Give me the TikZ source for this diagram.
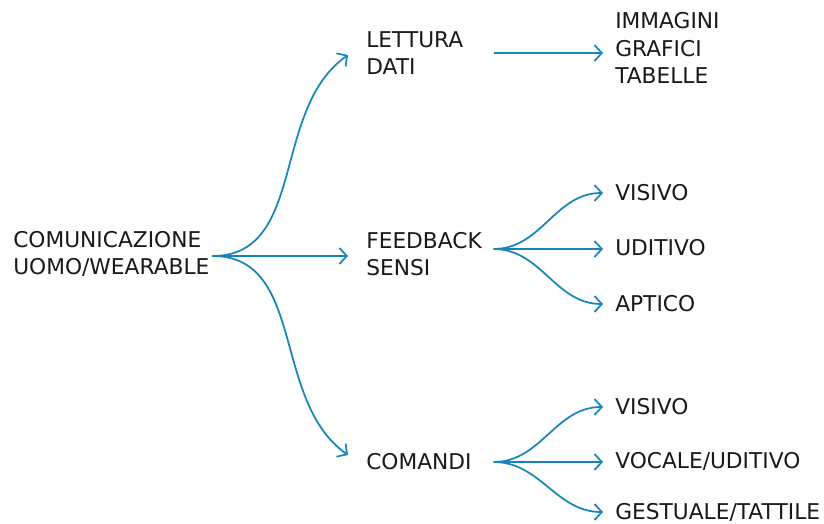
\documentclass[tikz,border=0pt]{standalone}
\usepackage{fontspec}
\setmainfont{DejaVu Sans}
\usetikzlibrary{arrows.meta,positioning}

\definecolor{linkblue}{RGB}{24,132,188}

\begin{document}
\begin{tikzpicture}[x=0.75pt, y=-0.75pt,
    item/.style={anchor=west, inner sep=0pt, align=left, text=black!90,
                 font=\fontsize{16.3}{20.3}\selectfont},
    mid/.style={item, text width=95.25pt},
    arrow/.style={-{Straight Barb[length=5.5pt,width=12pt]}, line width=1.3pt, draw=linkblue}
]
\useasboundingbox (0,0) rectangle (824,524);

% Root
\node[item] (root) at (13,254) {COMUNICAZIONE\\UOMO/WEARABLE};

% Second level
\node[mid] (lettura)  at (366,53)  {LETTURA\\DATI};
\node[mid] (feedback) at (366,254) {FEEDBACK\\SENSI};
\node[mid] (comandi)  at (366,462) {COMANDI};

% Third level
\node[item] (immagini) at (615,48)  {IMMAGINI\\GRAFICI\\TABELLE};
\node[item] (visivoa)  at (615,193) {VISIVO};
\node[item] (uditivo)  at (615,248) {UDITIVO};
\node[item] (aptico)   at (615,304) {APTICO};
\node[item] (visivob)  at (615,407) {VISIVO};
\node[item] (vocale)   at (615,461) {VOCALE/UDITIVO};
\node[item] (gestuale) at (615,512) {GESTUALE/TATTILE};

% Root arrows
\draw[arrow] ([xshift=2pt,yshift=-1.5pt]root.east) to[out=0, in=215] ([xshift=-13.5pt,yshift=-1.5pt]lettura.west);
\draw[arrow] ([xshift=2pt,yshift=-1.5pt]root.east) -- ([xshift=-13.5pt,yshift=-1.5pt]root.east -| feedback.west);
\draw[arrow] ([xshift=2pt,yshift=-1.5pt]root.east) to[out=0, in=145] ([xshift=-13.5pt,yshift=5.25pt]comandi.west);

% Lettura dati
\draw[arrow] (lettura.east) -- ([xshift=-9pt]lettura.east -| immagini.west);

% Feedback sensi
\draw[arrow] ([yshift=3.75pt]feedback.east) to[out=0, in=180] ([xshift=-9pt]visivoa.west);
\draw[arrow] ([yshift=3.75pt]feedback.east) -- ([xshift=-9pt,yshift=3.75pt]feedback.east -| uditivo.west);
\draw[arrow] ([yshift=3.75pt]feedback.east) to[out=0, in=180] ([xshift=-9pt]aptico.west);

% Comandi
\draw[arrow] (comandi.east) to[out=0, in=180] ([xshift=-9pt]visivob.west);
\draw[arrow] (comandi.east) -- ([xshift=-9pt]comandi.east -| vocale.west);
\draw[arrow] (comandi.east) to[out=0, in=180] ([xshift=-9pt]gestuale.west);

\end{tikzpicture}
\end{document}
